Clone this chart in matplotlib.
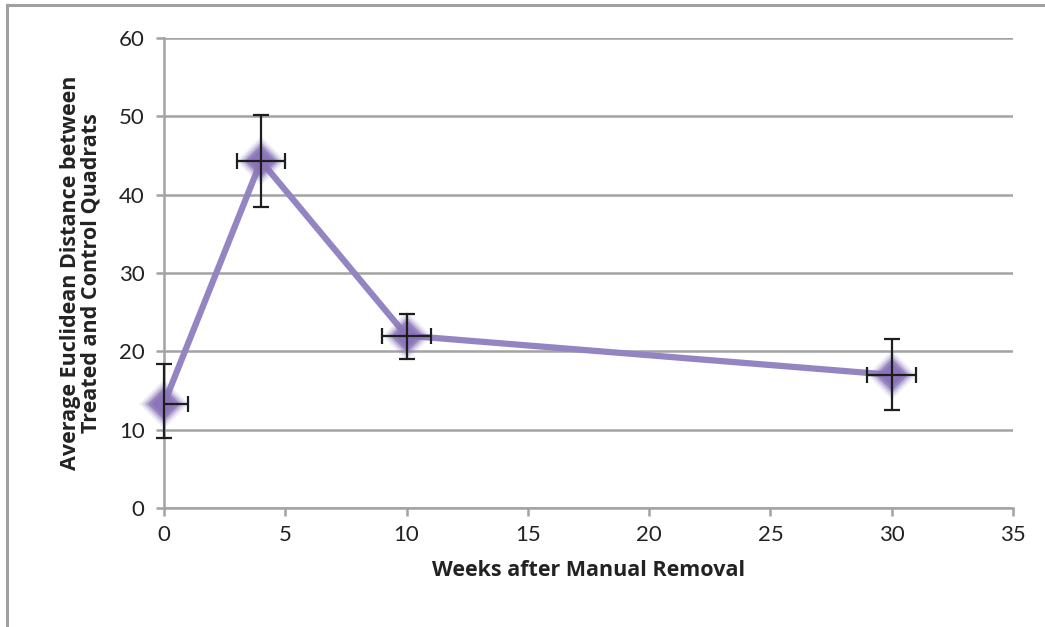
import matplotlib.pyplot as plt
from matplotlib.lines import Line2D

plt.rcParams['font.family'] = ['Lato', 'DejaVu Sans']

weeks = [0, 4, 10, 30]
distance = [13.3, 44.3, 22.0, 17.0]
err_low = [4.4, 5.9, 3.0, 4.5]
err_high = [5.1, 5.9, 2.8, 4.6]
x_err = [1, 1, 1, 1]

line_color = "#9584c2"
grid_color = "#a3a3a3"

fig = plt.figure(figsize=(10.45, 6.27), dpi=100)
ax = fig.add_axes([0.1569, 0.1898, 0.8125, 0.7496])

# outer chart frame (only left and top visible)
fig.add_artist(Line2D([0.0067, 0.0067], [0.0, 0.992], color="#a0a0a0", lw=2.2, transform=fig.transFigure))
fig.add_artist(Line2D([0.0067, 1.0], [0.992, 0.992], color="#a0a0a0", lw=2.2, transform=fig.transFigure))

ax.plot(weeks, distance, color=line_color, lw=4.5, zorder=3, solid_capstyle="round")

# soft glow around the diamonds
for size, alpha in [(25, 0.12), (22, 0.22), (19, 0.4), (16, 0.75), (12, 0.9)]:
    ax.plot(weeks, distance, linestyle="none", marker="D", markersize=size,
            color="#8a74b8", alpha=alpha, markeredgewidth=0, zorder=4, clip_on=False)

# vertical bars are not clipped, horizontal ones are (left half at week 0 hidden)
eb_y = ax.errorbar(weeks, distance, yerr=[err_low, err_high], fmt="none",
                   ecolor="#1e1e1e", elinewidth=1.6, capsize=6, capthick=1.6, zorder=5)
for art in eb_y.lines[1] + eb_y.lines[2]:
    art.set_clip_on(False)
ax.errorbar(weeks, distance, xerr=x_err, fmt="none",
            ecolor="#1e1e1e", elinewidth=1.6, capsize=6, capthick=1.6, zorder=5)

ax.set_xlim(0, 35)
ax.set_ylim(0, 60)
ax.set_xticks(range(0, 36, 5))
ax.set_yticks(range(0, 61, 10))

ax.yaxis.grid(True, color=grid_color, lw=1.8)
ax.set_axisbelow(True)
for side in ["top", "right"]:
    ax.spines[side].set_visible(False)
for side in ["left", "bottom"]:
    ax.spines[side].set_color(grid_color)
    ax.spines[side].set_linewidth(1.8)
ax.tick_params(axis="both", colors=grid_color, width=1.8, length=6, labelsize=16, labelcolor="#222222")
ax.tick_params(axis="x", pad=6)
ax.tick_params(axis="y", pad=8)

label_font = ["Open Sans", "DejaVu Sans"]
ax.set_xlabel("Weeks after Manual Removal", fontsize=15.5, fontweight="bold", color="#222222",
              labelpad=11, family=label_font)
ax.set_ylabel("Average Euclidean Distance between\nTreated and Control Quadrats", fontsize=15.5,
              fontweight="bold", color="#222222", labelpad=12, linespacing=1.0, family=label_font)

fig.savefig("out.png", dpi=100)
